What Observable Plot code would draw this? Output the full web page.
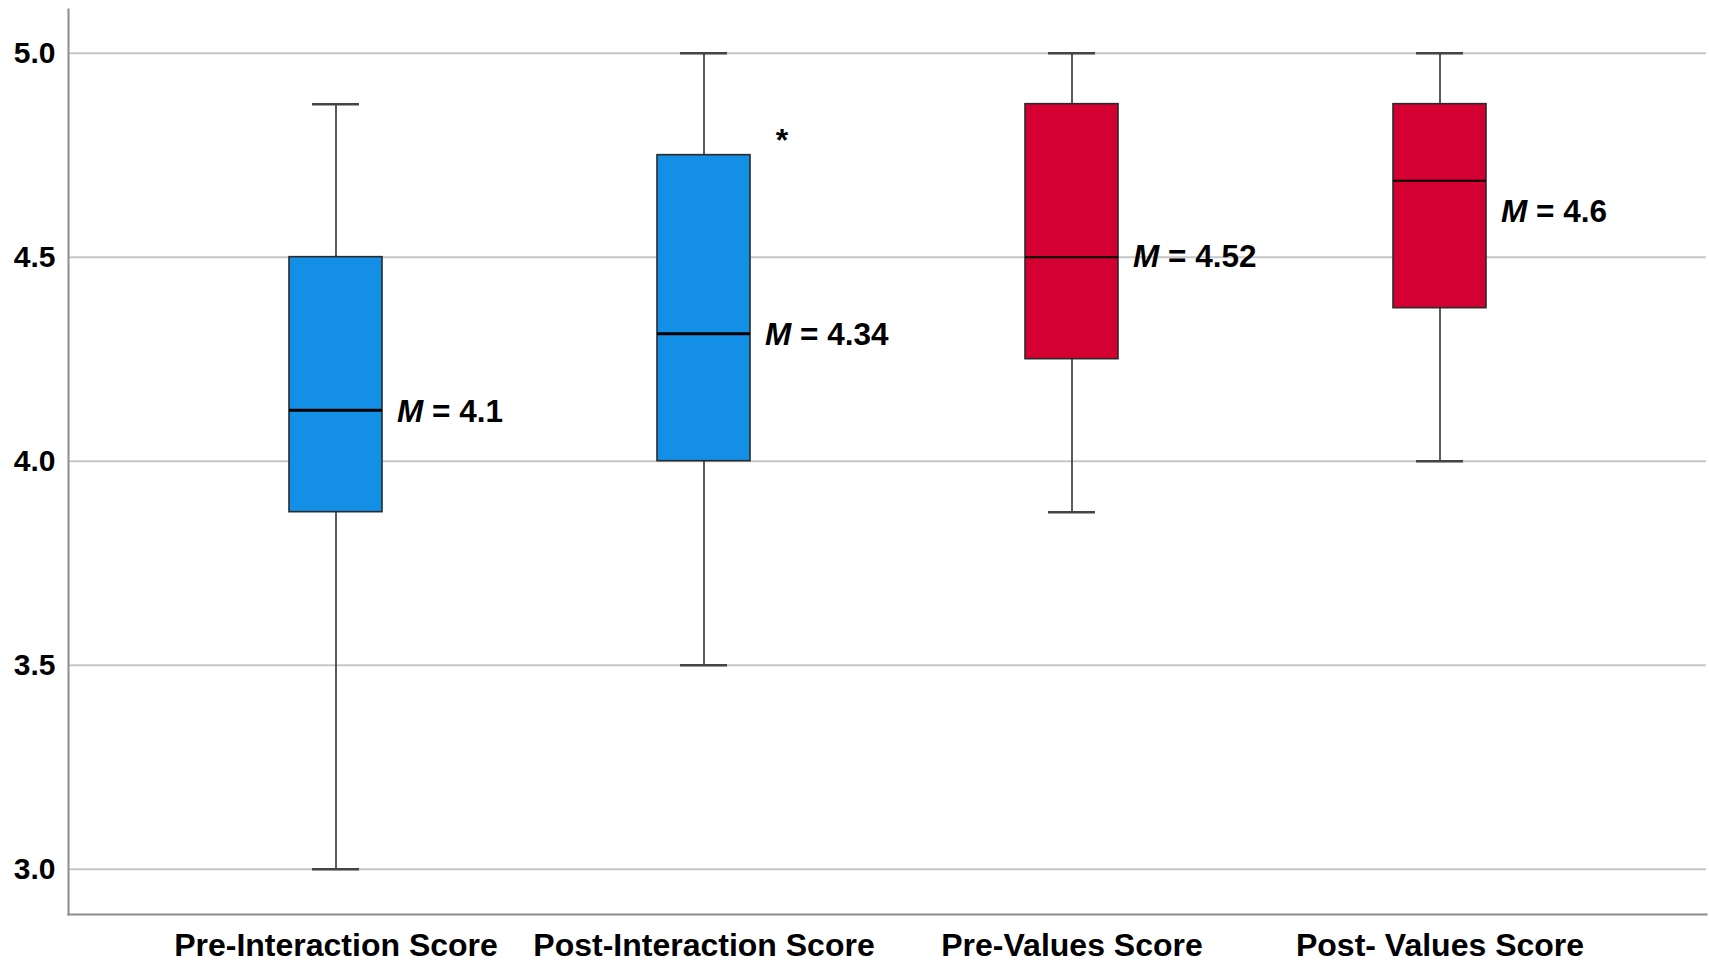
<!DOCTYPE html>
<html><head><meta charset="utf-8">
<script src="https://cdn.jsdelivr.net/npm/d3@7"></script>
<script src="https://cdn.jsdelivr.net/npm/@observablehq/plot@0.6"></script>
<style>html,body{margin:0;padding:0;background:#fff;}</style>
</head><body><div id="chart"></div>
<script>
// ---- data ----
const categories = ["Pre-Interaction Score", "Post-Interaction Score", "Pre-Values Score", "Post- Values Score"];
const groups = ["Interaction", "Interaction", "Values", "Values"];
const mins    = [3.0,   3.5,    3.875, 4.0];
const q1s     = [3.875, 4.0,    4.25,  4.375];
const medians = [4.125, 4.3125, 4.5,   4.6875];
const q3s     = [4.5,   4.75,   4.875, 4.875];
const maxs    = [4.875, 5.0,    5.0,   5.0];
const means   = ["4.1", "4.34", "4.52", "4.6"];
const meanLabelY = [4.12, 4.31, 4.50, 4.61];
const outlierCats = ["Post-Interaction Score"];
const outlierValues = [4.786];
const yTicks = [3.0, 3.5, 4.0, 4.5, 5.0];

const groupNames = ["Interaction", "Values"];
const groupColors = ["#1390e6", "#d50032"];

const data = categories.map((c, i) => ({
  cat: c, group: groups[i], min: mins[i], q1: q1s[i], median: medians[i],
  q3: q3s[i], max: maxs[i], mean: means[i], meanY: meanLabelY[i]
}));
const outliers = outlierCats.map((c, i) => ({cat: c, value: outlierValues[i]}));

const font = '"Liberation Sans", Arial, Helvetica, sans-serif';

const chart = Plot.plot({
  width: 1709, height: 963,
  marginTop: 9, marginBottom: 49, marginLeft: 68, marginRight: 3,
  style: {fontFamily: font, fontSize: "30px", fontWeight: "bold", background: "#fff", color: "#000", overflow: "visible"},
  x: {domain: categories, paddingInner: 0.7476, paddingOuter: 0.5958},
  y: {domain: [2.889, 5.107]},
  color: {domain: groupNames, range: groupColors},
  marks: [
    Plot.gridY(yTicks, {stroke: "#c6c6c6", strokeOpacity: 1, strokeWidth: 2}),
    Plot.frame({anchor: "left", stroke: "#8c8c8c", strokeWidth: 2}),
    Plot.frame({anchor: "bottom", stroke: "#8c8c8c", strokeWidth: 2}),
    Plot.ruleX(data, {x: "cat", y1: "min", y2: "q1", stroke: "#333", strokeWidth: 1.6}),
    Plot.ruleX(data, {x: "cat", y1: "q3", y2: "max", stroke: "#333", strokeWidth: 1.6}),
    Plot.tickY(data, {x: "cat", y: "min", insetLeft: 23, insetRight: 23, stroke: "#444", strokeWidth: 2.5}),
    Plot.tickY(data, {x: "cat", y: "max", insetLeft: 23, insetRight: 23, stroke: "#444", strokeWidth: 2.5}),
    Plot.barY(data, {x: "cat", y1: "q1", y2: "q3", fill: "group", stroke: "#2a2a2a", strokeWidth: 1.6}),
    Plot.tickY(data, {x: "cat", y: "median", stroke: "#000", strokeWidth: d => d.group === "Interaction" ? 3 : 2}),
    Plot.text(data, {x: "cat", y: "meanY", text: () => "M", fontStyle: "italic", textAnchor: "start", dx: 61, fontSize: 31.5}),
    Plot.text(data, {x: "cat", y: "meanY", text: d => "= " + d.mean, textAnchor: "start", dx: 96, fontSize: 31.5}),
    Plot.text(outliers, {x: "cat", y: "value", text: () => "*", dx: 78, fontSize: 32}),
    Plot.axisY({ticks: yTicks, tickFormat: d3.format(".1f"), tickSize: 0, tickPadding: 13, fontSize: 30, label: null}),
    Plot.axisX({tickSize: 0, tickPadding: 19, fontSize: 32, label: null})
  ]
});
document.getElementById("chart").appendChild(chart);
</script>
</body></html>
